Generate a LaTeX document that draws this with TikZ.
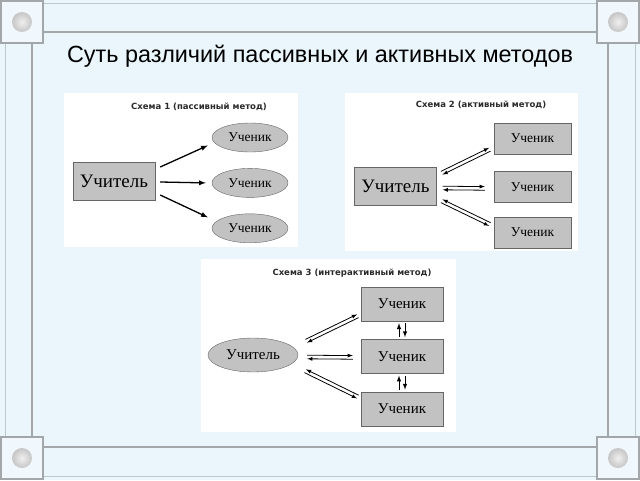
\documentclass[tikz,border=0pt]{standalone}
\usepackage{fontspec}
\setmainfont{Liberation Serif}
\newfontfamily\headfont{Liberation Sans}
\newfontfamily\schemefont{DejaVu Sans}
\usetikzlibrary{calc}
\usetikzlibrary{positioning}
\usetikzlibrary{shapes.geometric}
\definecolor{pageBlue}{HTML}{EAF5FC}
\definecolor{cornerBlue}{HTML}{F1F8FD}
\definecolor{frameGray}{HTML}{A4A7AA}
\definecolor{frameLight}{HTML}{BFC6CC}
\definecolor{boxGray}{HTML}{C2C2C2}
\definecolor{edgeGray}{HTML}{666666}
\definecolor{capGray}{HTML}{2A2A2A}
% two parallel one-way lines between #1 and #2
\newcommand{\twoway}[4]{
    \draw [pairline, #3] ($(#1)!1.8pt!90:(#2)$) -- ($(#2)!1.8pt!-90:(#1)$);
    \draw [pairline, #4] ($(#1)!1.8pt!-90:(#2)$) -- ($(#2)!1.8pt!90:(#1)$);
}

\begin{document}
\begin{tikzpicture}[x=1pt, y=-1pt, inner sep=0pt,
    frameouter/.style={draw=frameLight, line width=1pt},
    frameinner/.style={draw=frameGray, line width=2pt},
    cornerbox/.style={draw=frameGray, line width=1.8pt, fill=cornerBlue},
    teacherbox/.style={rectangle, draw=edgeGray, fill=boxGray, minimum width=82pt, minimum height=38pt, font=\fontsize{19}{19}\selectfont},
    teacheroval/.style={ellipse, draw=edgeGray, fill=boxGray, minimum width=90pt, minimum height=34pt, font=\fontsize{15}{15}\selectfont},
    pupiloval/.style={ellipse, draw=edgeGray, fill=boxGray, minimum width=76pt, minimum height=29pt, font=\fontsize{13.5}{13.5}\selectfont},
    pupilbox/.style={rectangle, draw=edgeGray, fill=boxGray, minimum width=77pt, minimum height=31pt, font=\fontsize{13.5}{13.5}\selectfont},
    pupilbig/.style={rectangle, draw=edgeGray, fill=boxGray, minimum width=82pt, minimum height=34pt, font=\fontsize{15}{15}\selectfont},
    schemecap/.style={font=\schemefont\bfseries\fontsize{8.5}{9}\selectfont, text=capGray},
    mainarrow/.style={-latex, line width=1.3pt},
    pairline/.style={line width=0.8pt},
    swaparrow/.style={line width=1pt}]
    \useasboundingbox (0,0) rectangle (640,480);

    % page and frame
    \fill [pageBlue] (0,0) rectangle (640,480);
    \draw [frameouter] (43,3) -- (597,3) (43,476) -- (597,476) (5,43) -- (5,437) (635,43) -- (635,437);
    \draw [frameinner] (43,32) -- (597,32) (43,447) -- (597,447) (32,43) -- (32,437) (608,43) -- (608,437);
    \foreach \cx/\cy in {22/22, 618/22, 22/458, 618/458} {
        \draw [cornerbox] (\cx-21,\cy-21) rectangle (\cx+21,\cy+21);
        \shade [inner color=gray!12, outer color=gray!45] (\cx,\cy) circle (10pt);
    }

    \node [font=\headfont\fontsize{23.4}{24}\selectfont] (title) at (320,56) {Суть различий пассивных и активных методов};

    % panels
    \fill [white] (64,93) rectangle (298,247);
    \fill [white] (345,93) rectangle (578,251);
    \fill [white] (201,259) rectangle (456,432);

    % scheme 1
    \node [schemecap] (cap1) at (199,107) {Схема 1 (пассивный метод)};
    \node [teacherbox] (t1) at (114,181) {Учитель};
    \node [pupiloval] (s11) at (250,137.5) {Ученик};
    \node [pupiloval, below=16pt of s11] (s12) {Ученик};
    \node [pupiloval, below=16pt of s12] (s13) {Ученик};

    \draw [mainarrow] ($(t1.east)+(5,-14)$) -- ($(s11.west)+(-4,8)$);
    \draw [mainarrow] ($(t1.east)+(5,1)$) -- ($(s12.west)+(-6,0)$);
    \draw [mainarrow] ($(t1.east)+(5,14)$) -- ($(s13.west)+(-4,-11)$);

    % scheme 2
    \node [schemecap] (cap2) at (481,105) {Схема 2 (активный метод)};
    \node [teacherbox] (t2) at (395.5,186) {Учитель};
    \node [pupilbox] (s21) at (532.5,138.5) {Ученик};
    \node [pupilbox, below=17pt of s21] (s22) {Ученик};
    \node [pupilbox, below=14pt of s22] (s23) {Ученик};

    \coordinate (a21) at ($(t2.east)+(5,-13)$);
    \coordinate (b21) at ($(s21.west)+(-4,11)$);
    \coordinate (a22) at ($(t2.east)+(6,2)$);
    \coordinate (b22) at ($(s22.west)+(-9,1.5)$);
    \coordinate (a23) at ($(t2.east)+(5,15)$);
    \coordinate (b23) at ($(s23.west)+(-4,-8)$);
    \twoway{a21}{b21}{-latex}{latex-}
    \twoway{a22}{b22}{-latex}{latex-}
    \twoway{a23}{b23}{latex-}{-latex}

    % scheme 3
    \node [schemecap] (cap3) at (352,273) {Схема 3 (интерактивный метод)};
    \node [teacheroval] (t3) at (253,355) {Учитель};
    \node [pupilbig] (s31) at (402,304) {Ученик};
    \node [pupilbig, below=18pt of s31] (s32) {Ученик};
    \node [pupilbig, below=18pt of s32] (s33) {Ученик};

    \coordinate (a31) at ($(t3.east)+(8,-14)$);
    \coordinate (b31) at ($(s31.west)+(-3,12)$);
    \coordinate (a32) at ($(t3.east)+(9,2)$);
    \coordinate (b32) at ($(s32.west)+(-8,1)$);
    \coordinate (a33) at ($(t3.east)+(7,16)$);
    \coordinate (b33) at ($(s33.west)+(-3,-12)$);
    \twoway{a31}{b31}{-latex}{latex-}
    \twoway{a32}{b32}{-latex}{latex-}
    \twoway{a33}{b33}{latex-}{-latex}

    \draw [swaparrow, latex-] ($(s31.south)+(-3,2)$) -- ($(s32.north)+(-3,-2)$);
    \draw [swaparrow, -latex] ($(s31.south)+(3,2)$) -- ($(s32.north)+(3,-2)$);
    \draw [swaparrow, latex-] ($(s32.south)+(-3,2)$) -- ($(s33.north)+(-3,-2)$);
    \draw [swaparrow, -latex] ($(s32.south)+(3,2)$) -- ($(s33.north)+(3,-2)$);
\end{tikzpicture}
\end{document}
